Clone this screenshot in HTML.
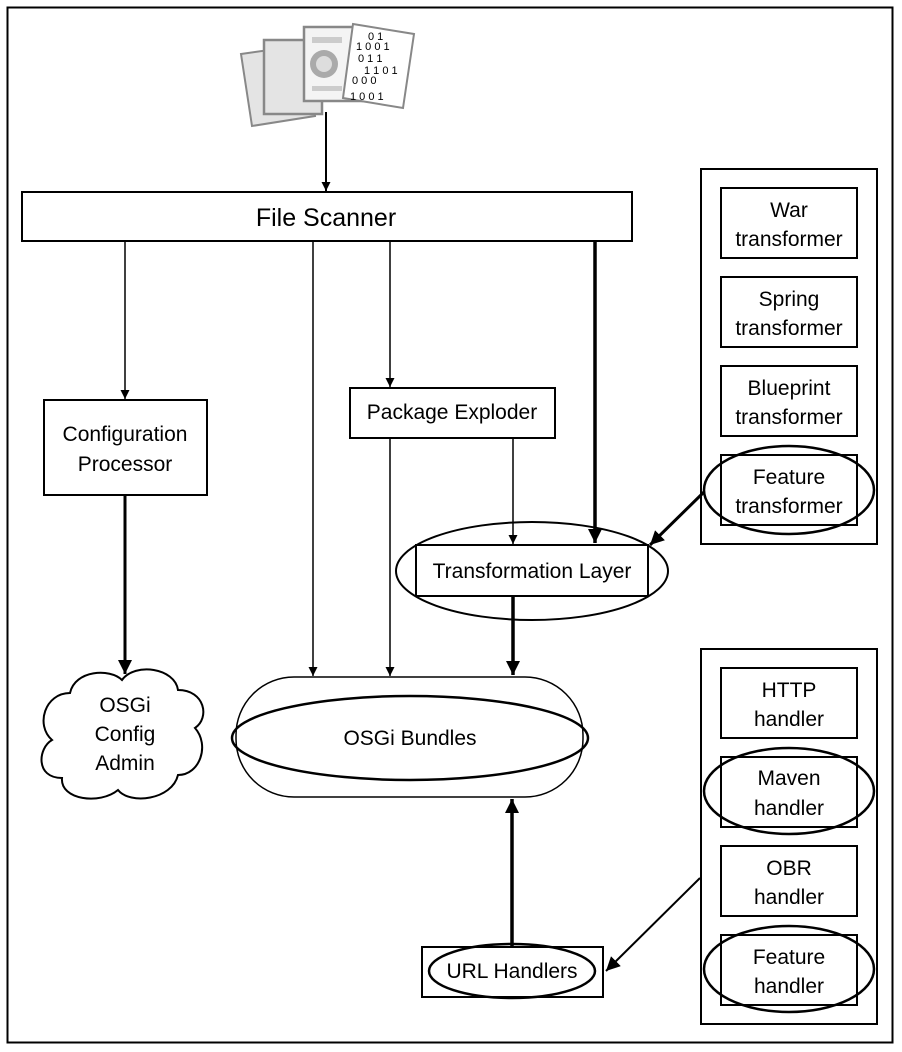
<!DOCTYPE html>
<html><head><meta charset="utf-8"><style>
html,body{margin:0;padding:0;background:#fff}
svg{display:block}
text{font-family:"Liberation Sans",sans-serif;fill:#000}
</style></head><body>
<svg width="902" height="1052" viewBox="0 0 902 1052" xmlns="http://www.w3.org/2000/svg">
<defs>
<marker id="a" viewBox="0 0 10 10" refX="10" refY="5" markerWidth="9" markerHeight="9" markerUnits="userSpaceOnUse" orient="auto"><path d="M0,0L10,5L0,10z" fill="#000"/></marker>
<marker id="b" viewBox="0 0 10 10" refX="10" refY="5" markerWidth="14" markerHeight="14" markerUnits="userSpaceOnUse" orient="auto"><path d="M0,0L10,5L0,10z" fill="#000"/></marker>
</defs>
<rect x="7.5" y="7.5" width="885" height="1035" fill="none" stroke="#000" stroke-width="2"/>
<!-- icon -->
<g>
<polygon points="241,54 305,45 315,116 252,126" fill="#e4e4e4" stroke="#888" stroke-width="2"/>
<rect x="264" y="40" width="58" height="74" fill="#e4e4e4" stroke="#888" stroke-width="2.5"/>
<rect x="304" y="27" width="58" height="74" fill="#f4f4f4" stroke="#888" stroke-width="2.5"/>
<circle cx="324" cy="64" r="14" fill="#aaa"/>
<circle cx="324" cy="64" r="8" fill="#ddd"/>
<rect x="312" y="37" width="30" height="6" fill="#ccc"/>
<rect x="312" y="86" width="30" height="5" fill="#ccc"/>
<polygon points="353,24 414,34 403,108 343,98" fill="#fff" stroke="#888" stroke-width="2"/>
<text x="368" y="40" font-size="11" fill="#c60">0 1</text>
<text x="356" y="50" font-size="11" fill="#c60">1  0 0 1</text>
<text x="358" y="62" font-size="11" fill="#159">0  1 1</text>
<text x="364" y="74" font-size="11" fill="#c60">1 1 0 1</text>
<text x="352" y="84" font-size="11" fill="#159">0 0 0</text>
<text x="350" y="100" font-size="11" fill="#c60">1  0 0 1</text>
</g>
<line x1="326" y1="112" x2="326" y2="191" stroke="#000" stroke-width="2" marker-end="url(#a)"/>
<!-- File scanner -->
<rect x="22" y="192" width="610" height="49" fill="#fff" stroke="#000" stroke-width="2"/>
<text x="326" y="226" font-size="25" text-anchor="middle">File Scanner</text>
<!-- config -->
<line x1="125" y1="241" x2="125" y2="399" stroke="#000" stroke-width="1.5" marker-end="url(#a)"/>
<rect x="44" y="400" width="163" height="95" fill="#fff" stroke="#000" stroke-width="2"/>
<text x="125" y="441" font-size="21" text-anchor="middle">Configuration</text>
<text x="125" y="471" font-size="21" text-anchor="middle">Processor</text>
<line x1="125" y1="495" x2="125" y2="674" stroke="#000" stroke-width="3" marker-end="url(#b)"/>
<path d="M70,693 C75,670 110,668 122,680 C135,662 175,668 178,690 C205,690 210,718 195,728 C210,745 200,775 178,775 C172,800 130,805 118,790 C100,805 60,800 62,778 C35,778 38,748 52,740 C35,725 45,693 70,693 Z" fill="#fff" stroke="#000" stroke-width="2"/>
<text x="125" y="712" font-size="21" text-anchor="middle">OSGi</text>
<text x="125" y="741" font-size="21" text-anchor="middle">Config</text>
<text x="125" y="770" font-size="21" text-anchor="middle">Admin</text>
<!-- lines to bundles -->
<line x1="313" y1="241" x2="313" y2="676" stroke="#000" stroke-width="1.5" marker-end="url(#a)"/>
<line x1="390" y1="241" x2="390" y2="387" stroke="#000" stroke-width="1.5" marker-end="url(#a)"/>
<rect x="350" y="388" width="205" height="50" fill="#fff" stroke="#000" stroke-width="2"/>
<text x="452" y="419" font-size="21" text-anchor="middle">Package Exploder</text>
<line x1="390" y1="438" x2="390" y2="676" stroke="#000" stroke-width="1.5" marker-end="url(#a)"/>
<line x1="513" y1="438" x2="513" y2="544" stroke="#000" stroke-width="1.5" marker-end="url(#a)"/>
<line x1="595" y1="241" x2="595" y2="543" stroke="#000" stroke-width="3.5" marker-end="url(#b)"/>
<rect x="416" y="545" width="232" height="51" fill="#fff" stroke="#000" stroke-width="2"/>
<ellipse cx="532" cy="571" rx="136" ry="49" fill="none" stroke="#000" stroke-width="2"/>
<text x="532" y="578" font-size="21" text-anchor="middle">Transformation Layer</text>
<line x1="513" y1="596" x2="513" y2="675" stroke="#000" stroke-width="3.5" marker-end="url(#b)"/>
<!-- bundles -->
<rect x="236" y="677" width="347" height="120" rx="58" fill="#fff" stroke="#000" stroke-width="1.5"/>
<ellipse cx="410" cy="738" rx="178" ry="42" fill="none" stroke="#000" stroke-width="2.5"/>
<text x="410" y="745" font-size="21" text-anchor="middle">OSGi Bundles</text>
<!-- url handlers -->
<line x1="512" y1="946" x2="512" y2="799" stroke="#000" stroke-width="3.5" marker-end="url(#b)"/>
<rect x="422" y="947" width="181" height="50" fill="#fff" stroke="#000" stroke-width="2"/>
<ellipse cx="512" cy="971" rx="83" ry="27" fill="none" stroke="#000" stroke-width="2.5"/>
<text x="512" y="978" font-size="21" text-anchor="middle">URL Handlers</text>
<!-- right panel 1 -->
<rect x="701" y="169" width="176" height="375" fill="#fff" stroke="#000" stroke-width="2"/>
<rect x="721" y="188" width="136" height="70" fill="none" stroke="#000" stroke-width="2"/>
<text x="789" y="217" font-size="21" text-anchor="middle">War</text>
<text x="789" y="246" font-size="21" text-anchor="middle">transformer</text>
<rect x="721" y="277" width="136" height="70" fill="none" stroke="#000" stroke-width="2"/>
<text x="789" y="306" font-size="21" text-anchor="middle">Spring</text>
<text x="789" y="335" font-size="21" text-anchor="middle">transformer</text>
<rect x="721" y="366" width="136" height="70" fill="none" stroke="#000" stroke-width="2"/>
<text x="789" y="395" font-size="21" text-anchor="middle">Blueprint</text>
<text x="789" y="424" font-size="21" text-anchor="middle">transformer</text>
<rect x="721" y="455" width="136" height="70" fill="none" stroke="#000" stroke-width="2"/>
<ellipse cx="789" cy="490" rx="85" ry="44" fill="none" stroke="#000" stroke-width="2.5"/>
<text x="789" y="484" font-size="21" text-anchor="middle">Feature</text>
<text x="789" y="513" font-size="21" text-anchor="middle">transformer</text>
<line x1="704" y1="492" x2="650" y2="545" stroke="#000" stroke-width="3" marker-end="url(#b)"/>
<!-- right panel 2 -->
<rect x="701" y="649" width="176" height="375" fill="#fff" stroke="#000" stroke-width="2"/>
<rect x="721" y="668" width="136" height="70" fill="none" stroke="#000" stroke-width="2"/>
<text x="789" y="697" font-size="21" text-anchor="middle">HTTP</text>
<text x="789" y="726" font-size="21" text-anchor="middle">handler</text>
<rect x="721" y="757" width="136" height="70" fill="none" stroke="#000" stroke-width="2"/>
<ellipse cx="789" cy="791" rx="85" ry="43" fill="none" stroke="#000" stroke-width="2.5"/>
<text x="789" y="785" font-size="21" text-anchor="middle">Maven</text>
<text x="789" y="815" font-size="21" text-anchor="middle">handler</text>
<rect x="721" y="846" width="136" height="70" fill="none" stroke="#000" stroke-width="2"/>
<text x="789" y="875" font-size="21" text-anchor="middle">OBR</text>
<text x="789" y="904" font-size="21" text-anchor="middle">handler</text>
<rect x="721" y="935" width="136" height="70" fill="none" stroke="#000" stroke-width="2"/>
<ellipse cx="789" cy="969" rx="85" ry="43" fill="none" stroke="#000" stroke-width="2.5"/>
<text x="789" y="964" font-size="21" text-anchor="middle">Feature</text>
<text x="789" y="993" font-size="21" text-anchor="middle">handler</text>
<line x1="700" y1="878" x2="606" y2="971" stroke="#000" stroke-width="2" marker-end="url(#b)"/>
</svg>
</body></html>
